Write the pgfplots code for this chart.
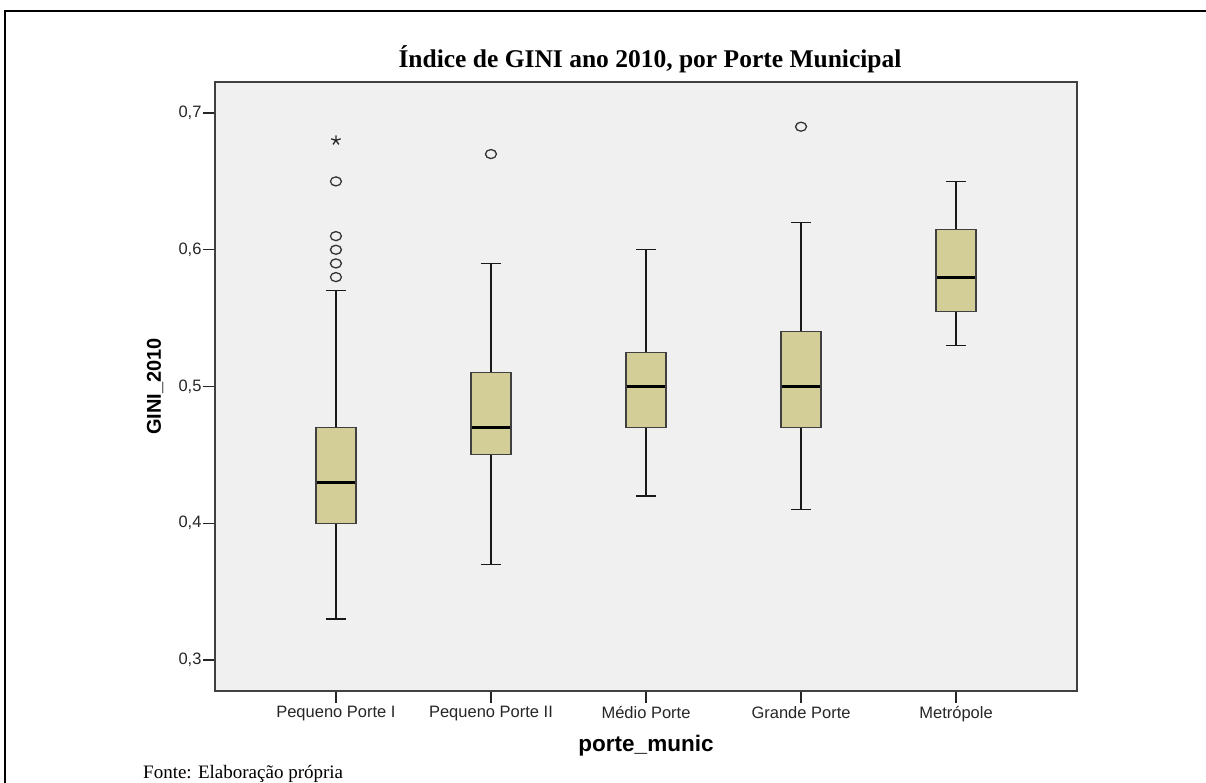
\documentclass[border=0pt]{standalone}
\usepackage{fontspec}
\setmainfont{Liberation Serif}
\setsansfont{Liberation Sans}
\usepackage{pgfplots}
\pgfplotsset{compat=1.18}
\definecolor{boxfill}{HTML}{D3CE97}
\definecolor{bggray}{HTML}{F0F0F0}
\pgfplotsset{
  boxsty/.style={fill=boxfill, draw=black!75, line width=1.2pt},
  medsty/.style={draw=black, line width=2.8pt},
  whisty/.style={draw=black!90, line width=1.4pt},
  outl/.style={only marks, mark=o, mark size=5.5pt, mark options={yscale=0.82, draw=black!80, fill=none, line width=1.3pt}},
}
\begin{document}
\begin{tikzpicture}
\useasboundingbox (0pt,0pt) rectangle (1206pt,782pt);
\draw[line width=2.5pt] (5pt,-10pt) -- (5pt,771pt) -- (1220pt,771pt);
\begin{axis}[
  at={(215pt,91pt)}, anchor=south west,
  width=862pt, height=609pt, scale only axis,
  xmin=-0.78, xmax=4.78, ymin=0.2773, ymax=0.7227,
  axis background/.style={fill=bggray},
  axis line style={draw=black!75, line width=1.6pt},
  unbounded coords=jump,
  xtick={0,1,2,3,4},
  xticklabels={Pequeno Porte I, Pequeno Porte II, Médio Porte, Grande Porte, Metrópole},
  ytick={0.3,0.4,0.5,0.6,0.7},
  yticklabels={{0,3},{0,4},{0,5},{0,6},{0,7}},
  tick align=outside, tick pos=left,
  major tick length=12pt,
  tick style={draw=black!85, line width=1.3pt},
  ticklabel style={font=\sffamily\fontsize{16.5}{19}\selectfont, text=black!85},
  yticklabel style={xshift=2pt},
  xlabel={porte\_munic},
  ylabel={GINI\_2010},
  xlabel style={font=\sffamily\bfseries\fontsize{22.5}{26}\selectfont, at={(axis description cs:0.5,-0.0903)}, anchor=center},
  ylabel style={font=\sffamily\bfseries\fontsize{20}{24}\selectfont, at={(axis description cs:-0.0696,0.5)}, anchor=center},
]
% whiskers (lower whisker, Q1, Q3, upper whisker) with caps
\addplot[whisty] coordinates {
 (0,0.47) (0,0.57) (0,nan) (-0.065,0.57) (0.065,0.57) (0,nan)
 (0,0.40) (0,0.33) (0,nan) (-0.065,0.33) (0.065,0.33) (0,nan)
 (1,0.51) (1,0.59) (1,nan) (0.935,0.59) (1.065,0.59) (1,nan)
 (1,0.45) (1,0.37) (1,nan) (0.935,0.37) (1.065,0.37) (1,nan)
 (2,0.525) (2,0.60) (2,nan) (1.935,0.60) (2.065,0.60) (2,nan)
 (2,0.47) (2,0.42) (2,nan) (1.935,0.42) (2.065,0.42) (2,nan)
 (3,0.54) (3,0.62) (3,nan) (2.935,0.62) (3.065,0.62) (3,nan)
 (3,0.47) (3,0.41) (3,nan) (2.935,0.41) (3.065,0.41) (3,nan)
 (4,0.615) (4,0.65) (4,nan) (3.935,0.65) (4.065,0.65) (4,nan)
 (4,0.555) (4,0.53) (4,nan) (3.935,0.53) (4.065,0.53)
};
% boxes (Q1 to Q3)
\addplot[boxsty] coordinates {(-0.129,0.40) (0.129,0.40) (0.129,0.47) (-0.129,0.47)} -- cycle;
\addplot[boxsty] coordinates {(0.871,0.45) (1.129,0.45) (1.129,0.51) (0.871,0.51)} -- cycle;
\addplot[boxsty] coordinates {(1.871,0.47) (2.129,0.47) (2.129,0.525) (1.871,0.525)} -- cycle;
\addplot[boxsty] coordinates {(2.871,0.47) (3.129,0.47) (3.129,0.54) (2.871,0.54)} -- cycle;
\addplot[boxsty] coordinates {(3.871,0.555) (4.129,0.555) (4.129,0.615) (3.871,0.615)} -- cycle;
% medians
\addplot[medsty] coordinates {
 (-0.125,0.43) (0.125,0.43) (0,nan)
 (0.875,0.47) (1.125,0.47) (1,nan)
 (1.875,0.50) (2.125,0.50) (2,nan)
 (2.875,0.50) (3.125,0.50) (3,nan)
 (3.875,0.58) (4.125,0.58)
};
% outliers
\addplot[outl] coordinates {(0,0.58) (0,0.59) (0,0.60) (0,0.61) (0,0.65) (1,0.67) (3,0.69)};
% extreme value
\addplot[only marks, mark=star, mark size=5pt, mark options={draw=black!85, line width=1.3pt}]
  coordinates {(0,0.68)};
\end{axis}
\node[anchor=base, font=\bfseries\fontsize{25.5}{29}\selectfont, inner sep=0] at (650pt,714pt) {Índice de GINI ano 2010, por Porte Municipal};
\node[anchor=base west, font=\fontsize{19}{22}\selectfont, inner sep=0] at (143pt,4pt) {Fonte: Elaboração própria};
\end{tikzpicture}
\end{document}
